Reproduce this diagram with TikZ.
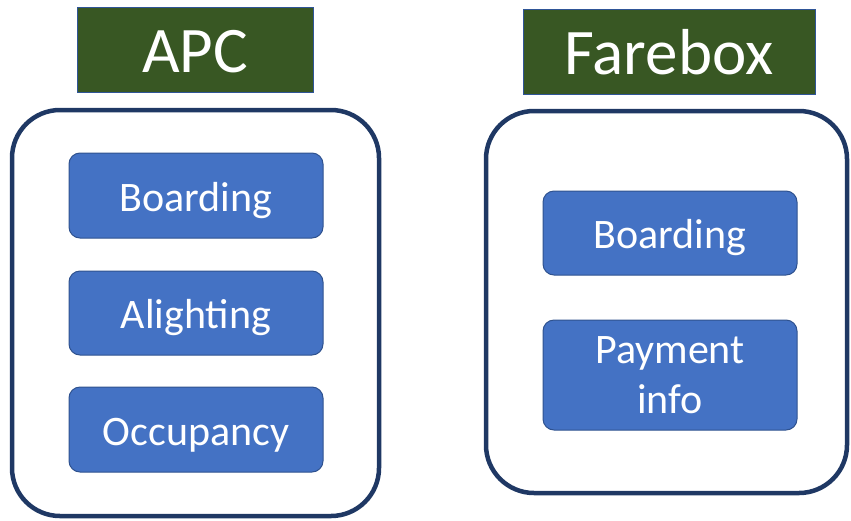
\documentclass[tikz,border=0pt]{standalone}
\usepackage{fontspec}
\setmainfont{Carlito}
\definecolor{hdrgreen}{HTML}{385723}
\definecolor{hdrborder}{HTML}{2F5597}
\definecolor{navy}{HTML}{1F3864}
\definecolor{itemfill}{HTML}{4472C4}
\definecolor{itemline}{HTML}{2F528F}
\tikzset{
  x=1pt, y=-1pt,
  header/.style={draw=hdrborder, line width=1pt, fill=hdrgreen, text=white,
    inner sep=0pt, text height=50pt, text depth=5pt,
    font=\fontsize{65}{72}\selectfont},
  group/.style={draw=navy, line width=4.5pt, rounded corners=48pt, inner sep=0pt},
  item/.style={draw=itemline, line width=1pt, fill=itemfill, rounded corners=11pt,
    text=white, align=center, inner sep=0pt, minimum width=254pt,
    font=\fontsize{42}{50}\selectfont},
  oneline/.style={text height=36pt, text depth=5pt},
}
\begin{document}
\begin{tikzpicture}
\useasboundingbox (0,0) rectangle (851,520);
% titles
\node[header, minimum width=236pt, minimum height=85pt] (apc) at (195,49.5) {APC};
\node[header, minimum width=292pt, minimum height=85pt] (farebox) at (669,51.5) {Farebox};
% outer groups
\node[group, minimum width=367pt, minimum height=406pt] (apcgroup) at (195.5,313) {};
\node[group, minimum width=361pt, minimum height=382pt] (fbgroup) at (666.5,302) {};
% APC items
\node[item, oneline, minimum height=85pt] (b1) at (196,195.5) {Boarding};
\node[item, oneline, minimum height=84pt] (a1) at (196,313) {Alighting};
\node[item, oneline, minimum height=85pt] (o1) at (196,429.5) {Occupancy};
% Farebox items
\node[item, oneline, minimum height=84pt] (b2) at (670,233) {Boarding};
\node[item, minimum height=110pt] (p2) at (670,375) {Payment\\info};
\end{tikzpicture}
\end{document}
